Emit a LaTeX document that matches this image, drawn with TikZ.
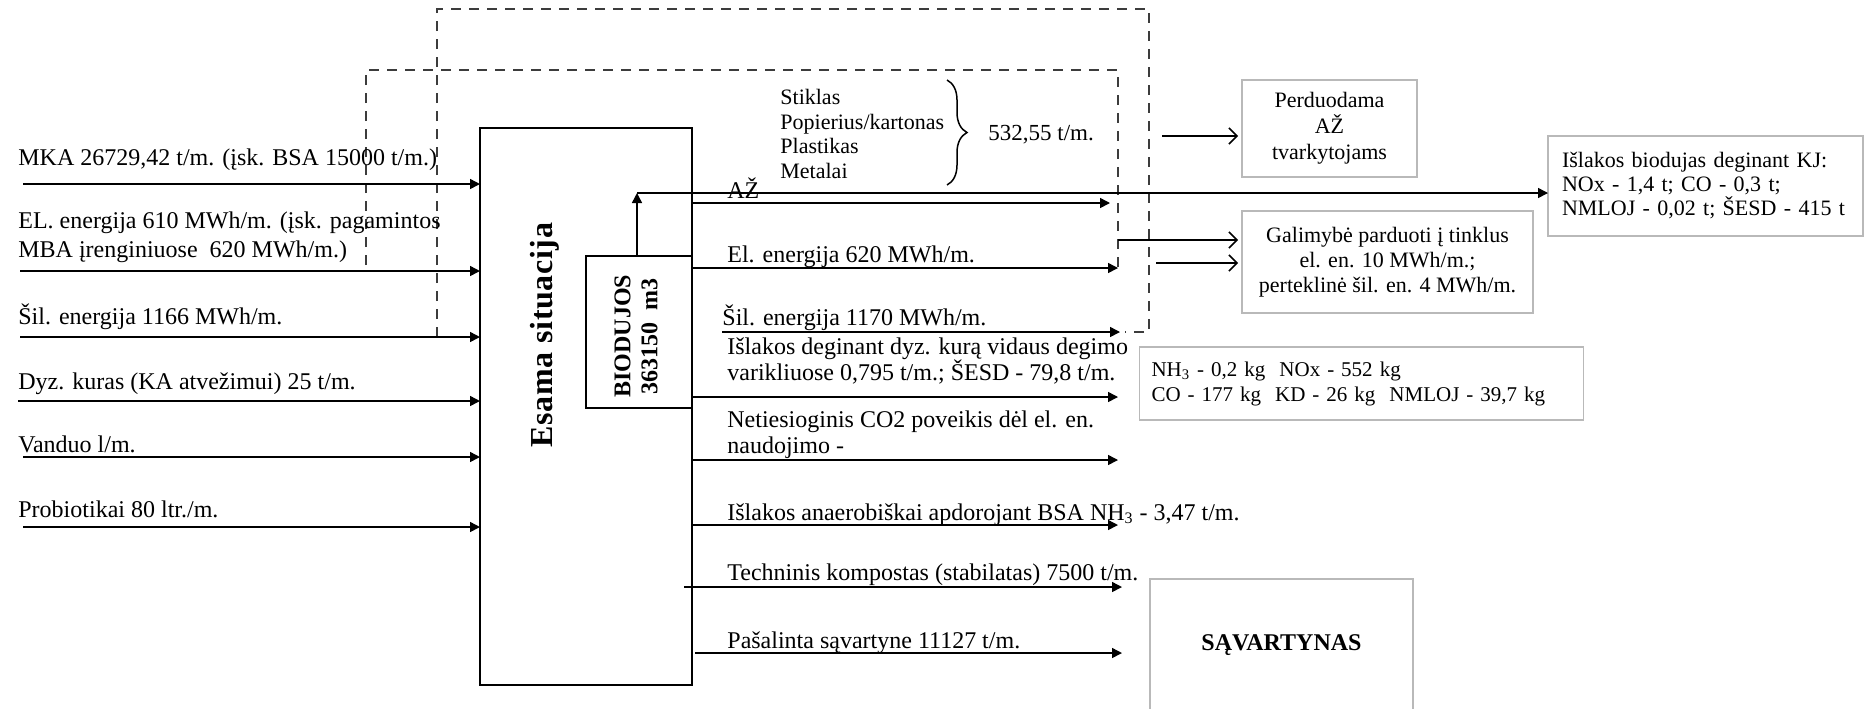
\documentclass[tikz,border=0pt]{standalone}
\usepackage{fontspec}
\setmainfont{Liberation Serif}
\usepackage{tikz}
\usetikzlibrary{calc,arrows.meta,positioning,decorations.pathreplacing}
\definecolor{boxGray}{RGB}{185,185,185}
\definecolor{dashGray}{RGB}{60,60,60}

\begin{document}
\begin{tikzpicture}[x=0.5pt,y=-0.5pt,
  flow/.style={line width=0.75pt,-{Triangle[length=5pt,width=5pt]}},
  pass/.style={line width=0.75pt,shorten >=2pt,-{Straight Barb[length=4pt,width=8pt]}},
  bound/.style={draw=dashGray,line width=0.75pt,dash pattern=on 5pt off 4pt},
  plate/.style={draw,line width=0.75pt,inner sep=0pt,outer sep=0pt},
  note/.style={draw=boxGray,line width=0.6pt,outer sep=0pt,font=\fontsize{11}{12.5}\selectfont},
  intxt/.style={anchor=base west,inner sep=0pt,align=left,font=\fontsize{12}{14.5}\selectfont},
  outtxt/.style={anchor=base west,inner sep=0pt,align=left,font=\fontsize{12}{13}\selectfont}]
\useasboundingbox (0,0) rectangle (1866,708);

% process blocks
\node[plate,minimum width=106pt,minimum height=278.5pt] (esama) at (586,406.5) {};
\node[plate,minimum width=53pt,minimum height=76pt] (bio) at (639,332) {};
\node[rotate=90,font=\fontsize{16}{18}\selectfont\bfseries\addfontfeature{LetterSpace=2}] (esamatxt) at (545,335) {Esama situacija};
\node[rotate=90,align=center,font=\fontsize{12}{13.5}\selectfont\bfseries] (biotxt) at (636,336) {BIODUJOS\\363150\ \ m3};

% boundaries
\draw[bound] (437,337) -- (437,9) -- (1149,9) -- (1149,332) -- (1125,332);
\draw[bound] (366,265) -- (366,70) -- (1118,70) -- (1118,270);

% inputs (text y = baseline of last line)
\foreach \nm/\ty/\ay/\sx/\txt in {
  mka/165/184/23/{MKA 26729,42 t/m. (įsk. BSA 15000 t/m.)},
  el/257/271/20/{EL. energija 610 MWh/m. (įsk. pagamintos\\MBA įrenginiuose\ \ 620 MWh/m.)},
  sil/324/337/20/{Šil. energija 1166 MWh/m.},
  dyz/389/401/18/{Dyz. kuras (KA atvežimui) 25 t/m.},
  vand/452/457/23/{Vanduo l/m.},
  prob/517/527/23/{Probiotikai 80 ltr./m.}}{
  \node[intxt] (\nm) at (18,\ty) {\txt};
  \coordinate (\nm-in) at (\sx,\ay);
  \draw[flow] (\nm-in) -- (\nm-in -| esama.west);
}

% outputs
\foreach \nm/\ty/\ay/\ex/\txt in {
  az/198/203/1110/{AŽ},
  elout/262/268/1118/{El. energija 620 MWh/m.},
  isl/380/397/1118/{Išlakos deginant dyz. kurą vidaus degimo\\varikliuose 0,795 t/m.; ŠESD - 79,8 t/m.},
  net/453/460/1118/{Netiesioginis CO2 poveikis dėl el. en.\\naudojimo -},
  anaer/520/525/1118/{Išlakos anaerobiškai apdorojant BSA NH\textsubscript{3} - 3,47 t/m.}}{
  \node[outtxt] (\nm) at (727,\ty) {\txt};
  \coordinate (\nm-out) at (\ex,\ay);
  \draw[flow] (\nm-out -| esama.east) -- (\nm-out);
}
\node[outtxt] (silout) at (722,325) {Šil. energija 1170 MWh/m.};
\coordinate (silout-s) at (722,332);
\coordinate (silout-e) at (1120,332);
\draw[flow] (silout-s) -- (silout-e);
\node[outtxt] (tech) at (727,580) {Techninis kompostas (stabilatas) 7500 t/m.};
\coordinate (tech-s) at (684,587);
\coordinate (tech-e) at (1122,587);
\draw[flow] (tech-s) -- (tech-e);
\node[outtxt] (pasal) at (727,648) {Pašalinta sąvartyne 11127 t/m.};
\coordinate (pasal-s) at (695,653);
\coordinate (pasal-e) at (1122,653);
\draw[flow] (pasal-s) -- (pasal-e);

% sorted fractions
\node[anchor=base west,inner sep=0pt,align=left,font=\fontsize{11}{12.25}\selectfont] (mat) at (780,178) {Stiklas\\Popierius/kartonas\\Plastikas\\Metalai};
\draw[line width=0.75pt,decorate,decoration={brace,amplitude=10pt}] (947,80) -- (947,185);
\node[anchor=base west,inner sep=0pt,font=\fontsize{11.5}{13}\selectfont] (kiekis) at (988,140) {532,55 t/m.};

% receivers
\node[note,minimum width=87.5pt,minimum height=48.5pt,align=center,font=\fontsize{11}{13}\selectfont] (perd) at (1329.5,128.5) {Perduodama\\AŽ\\tvarkytojams};
\node[note,minimum width=145.5pt,minimum height=51pt,align=center] (galim) at (1387.5,262) {Galimybė parduoti į tinklus\\el. en. 10 MWh/m.;\\perteklinė šil. en. 4 MWh/m.};
\node[note,minimum width=157.5pt,minimum height=50pt,text width=143.5pt,inner xsep=7pt,align=left,font=\fontsize{11}{12}\selectfont] (kj) at (1705.5,186) {Išlakos biodujas deginant KJ:\\NOx - 1,4 t; CO - 0,3 t;\\NMLOJ - 0,02 t; ŠESD - 415 t};
\node[note,minimum width=221.5pt,minimum height=36.5pt,text width=210pt,inner xsep=6pt,align=left,font=\fontsize{10.5}{12.5}\selectfont] (nh) at (1361.5,383.5) {NH\textsubscript{3} - 0,2 kg\ \ NOx - 552 kg\\CO - 177 kg\ \ KD - 26 kg\ \ NMLOJ - 39,7 kg};
\node[note,minimum width=131.5pt,minimum height=66pt,font=\fontsize{12}{14}\selectfont\bfseries] (sav) at (1281.5,645) {SĄVARTYNAS};

\coordinate (bg-turn) at (637,193);
\draw[flow] (bio.north -| bg-turn) -- (bg-turn);
\draw[flow] (bg-turn) -- (bg-turn -| kj.west);

\coordinate (perd-s) at (1162,136);
\draw[pass] (perd-s) -- (perd-s -| perd.west);
\coordinate (gal-a) at (1118,240);
\coordinate (gal-b) at (1156,263);
\draw[pass] (gal-a) -- (gal-a -| galim.west);
\draw[pass] (gal-b) -- (gal-b -| galim.west);
\end{tikzpicture}
\end{document}
